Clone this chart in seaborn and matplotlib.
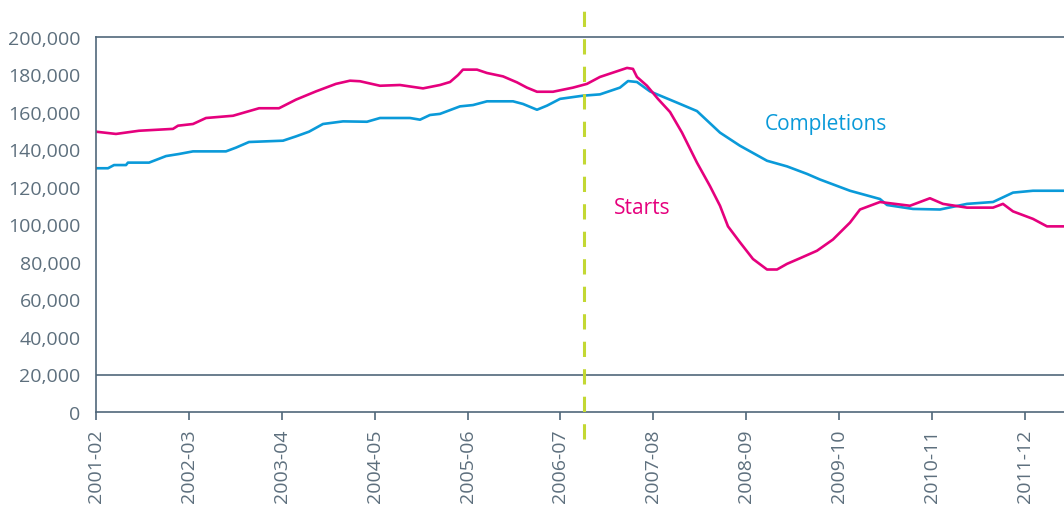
import matplotlib
matplotlib.use("Agg")
import matplotlib.pyplot as plt
import seaborn as sns
import pandas as pd

sns.set_theme(style="white")
plt.rcParams['font.family'] = ['Open Sans', 'DejaVu Sans']

# x = years since start of 2001-02 (financial years), values in thousands
starts_x = [0.00, 0.215, 0.463, 0.829, 0.883, 1.044, 1.184, 1.475, 1.615, 1.755,
            1.970, 2.153, 2.368, 2.583, 2.734, 2.842, 3.057, 3.272, 3.520, 3.703,
            3.811, 3.897, 3.950, 4.101, 4.209, 4.381, 4.532, 4.639, 4.747, 4.919,
            5.135, 5.285, 5.425, 5.716, 5.780, 5.823, 5.931, 6.049, 6.179, 6.308,
            6.469, 6.609, 6.717, 6.803, 6.932, 7.072, 7.223, 7.331, 7.438, 7.578,
            7.761, 7.933, 8.116, 8.224, 8.439, 8.762, 8.977, 9.117, 9.376, 9.656,
            9.763, 9.871, 10.086, 10.237, 10.420]
starts_k = [149.5, 148.3, 150.0, 151.0, 152.7, 153.6, 156.8, 158.0, 160.0, 162.0,
            162.0, 166.6, 171.0, 175.0, 176.7, 176.4, 174.0, 174.4, 172.6, 174.4,
            176.0, 179.7, 182.6, 182.6, 180.8, 179.0, 175.8, 173.0, 170.8, 170.8,
            173.0, 175.0, 178.7, 183.5, 183.0, 178.7, 174.0, 167.0, 160.0, 149.0,
            133.0, 120.5, 110.0, 99.0, 90.5, 81.6, 76.0, 76.0, 79.0, 82.0,
            86.0, 92.0, 101.0, 108.0, 112.0, 110.0, 114.0, 111.0, 109.0, 109.0,
            111.0, 107.0, 103.0, 99.0, 99.0]

compl_x = [0.00, 0.129, 0.194, 0.323, 0.344, 0.571, 0.754, 0.893, 1.044, 1.399,
           1.507, 1.647, 2.013, 2.153, 2.293, 2.443, 2.659, 2.917, 3.057, 3.380,
           3.488, 3.595, 3.703, 3.918, 4.058, 4.209, 4.489, 4.596, 4.747, 4.855,
           4.995, 5.242, 5.425, 5.640, 5.727, 5.823, 5.963, 6.254, 6.469, 6.717,
           6.932, 7.223, 7.438, 7.653, 7.793, 8.116, 8.439, 8.515, 8.794, 9.085,
           9.376, 9.656, 9.871, 10.086, 10.420]
compl_k = [130.0, 130.0, 131.7, 131.7, 133.0, 133.0, 136.5, 137.6, 139.0, 139.0,
           141.0, 144.0, 144.7, 147.0, 149.5, 153.6, 155.0, 154.8, 156.8, 156.8,
           155.9, 158.4, 159.0, 163.0, 163.7, 165.7, 165.7, 164.3, 161.2, 163.4,
           167.0, 168.7, 169.4, 173.0, 176.5, 176.0, 171.0, 165.0, 160.5, 149.0,
           142.0, 134.0, 131.0, 127.0, 124.0, 118.0, 113.6, 110.4, 108.3, 108.0,
           111.0, 112.0, 117.0, 118.0, 118.0]

year_labels = ["2001-02", "2002-03", "2003-04", "2004-05", "2005-06", "2006-07",
               "2007-08", "2008-09", "2009-10", "2010-11", "2011-12"]
y_ticks = list(range(0, 200001, 20000))
marker_x = 5.253  # dashed vertical marker

MAGENTA = "#e5007d"
BLUE = "#0a9ad9"
GREEN = "#c3d833"
AXIS = "#50677a"
TEXT = "#5d6f7d"

starts = pd.DataFrame({"x": starts_x, "v": [v * 1000 for v in starts_k]})
compl = pd.DataFrame({"x": compl_x, "v": [v * 1000 for v in compl_k]})

fig = plt.figure(figsize=(10.64, 5.06), dpi=100)
ax = fig.add_axes([96 / 1064, 93 / 506, 968 / 1064, 375 / 506])

sns.lineplot(data=compl, x="x", y="v", color=BLUE, lw=1.9, ax=ax)
sns.lineplot(data=starts, x="x", y="v", color=MAGENTA, lw=1.9, ax=ax)

ax.plot([marker_x, marker_x], [-14500, 215000], color=GREEN, lw=2.2,
        dashes=(5, 4), clip_on=False, zorder=5)
ax.axhline(20000, color=AXIS, lw=1.2, zorder=1)

ax.set_xlim(0, 10.42)
ax.set_ylim(0, 200000)
ax.set_xticks(range(len(year_labels)))
ax.set_xticklabels(year_labels, rotation=90)
ax.set_yticks(y_ticks)
ax.set_yticklabels([f"{v:,}" for v in y_ticks])
ax.set_yticks([0], minor=True)
ax.set_xlabel("")
ax.set_ylabel("")

for side in ["left", "bottom", "top"]:
    ax.spines[side].set_color(AXIS)
    ax.spines[side].set_linewidth(1.2)
ax.spines["right"].set_visible(False)

ax.tick_params(axis="x", length=6, width=1.2, color=AXIS, labelcolor=TEXT,
               labelsize=14, pad=6, bottom=True)
ax.tick_params(axis="y", which="major", length=0, labelcolor=TEXT, labelsize=14,
               pad=11, left=True)
ax.tick_params(axis="y", which="minor", length=5, width=1.2, color=AXIS, left=True)

ax.text(7.20, 153600, "Completions", color=BLUE, fontsize=15, va="center", ha="left")
ax.text(5.576, 109300, "Starts", color=MAGENTA, fontsize=15, va="center", ha="left")

fig.savefig("out.png", dpi=100)
